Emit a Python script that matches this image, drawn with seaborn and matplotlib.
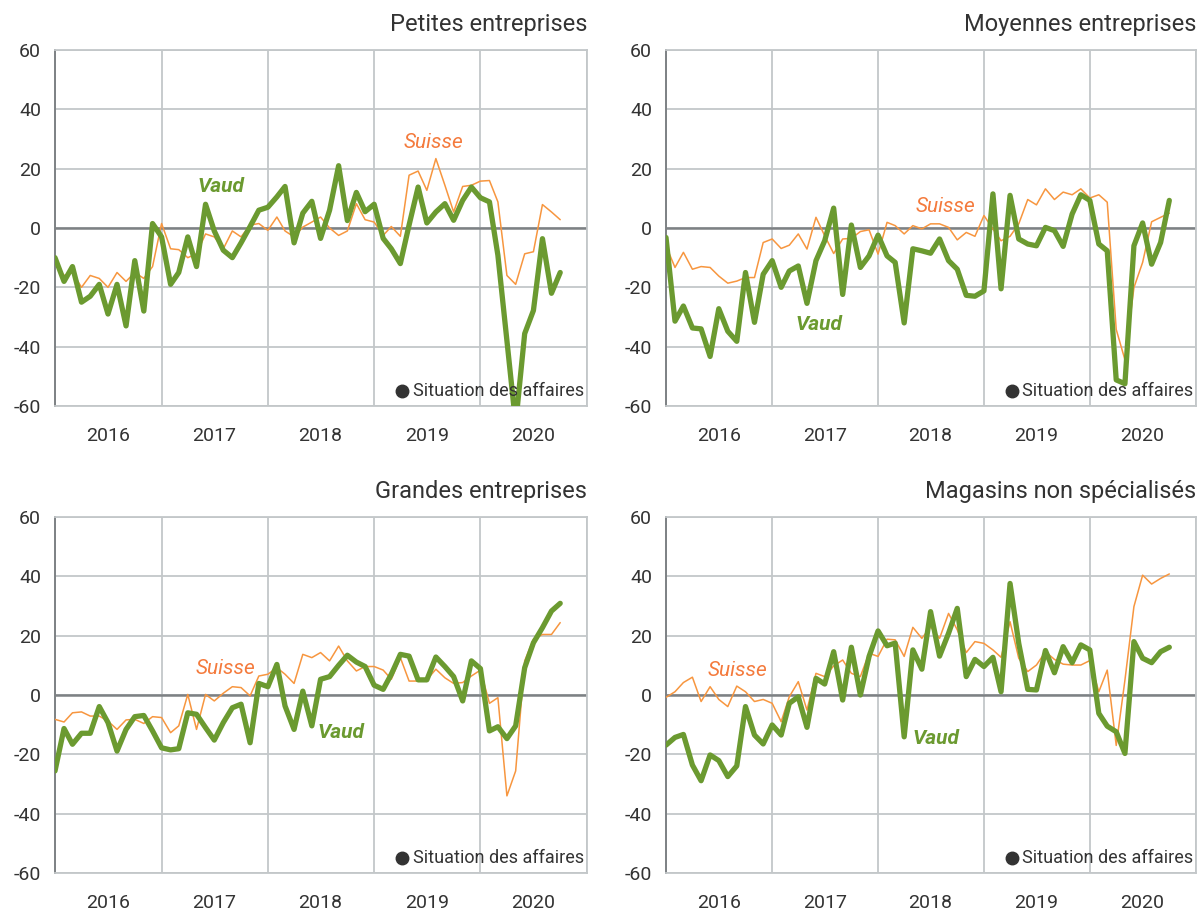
import numpy as np
import pandas as pd
import seaborn as sns
import matplotlib.pyplot as plt
import matplotlib.dates as mdates

sns.set_theme(style="white")
plt.rcParams["font.family"] = ["Roboto", "DejaVu Sans"]
plt.rcParams["axes.unicode_minus"] = False

# Monthly values, January 2016 to October 2020
months = pd.date_range("2016-01-01", periods=58, freq="MS")

petites_vaud = [-10, -18, -13, -25, -23, -19, -29, -19, -33, -11, -28, 1.5,
                -3, -19, -15, -3, -13, 8, -1, -7.5, -10, -5, 0.5, 6,
                7, 10.5, 14, -5, 5, 9, -3.5, 6, 21, 2.5, 12, 5.5,
                8, -3.5, -7, -12, 1, 13.8, 1.7, 5.4, 8.2, 2.6, 9.3, 13.8,
                10.2, 8.8, -9.2, -38, -66, -35.6, -27.8, -3.6, -22, -15]
petites_suisse = [-12, -16, -15, -20, -16, -17, -20, -15, -18, -15, -17, -13,
                  1.5, -7, -7.3, -10, -8.7, -2, -3, -7, -1, -3, 1, 1.5,
                  -0.8, 3.7, -1, -3, 0.3, 2, 3.7, 0, -2.5, -1, 8.2, 2.8,
                  2, -2.5, 0.5, -2.8, 17.8, 19.2, 12.7, 23.4, 14.4, 5.4, 14, 14.4,
                  15.8, 16, 8.8, -16, -19, -8.7, -8, 7.9, 5.4, 2.8]

moyennes_vaud = [-3.2, -31.4, -26.3, -33.7, -34, -43.3, -27.2, -34.8, -38.2, -15, -31.8, -15.6,
                 -11, -20, -14.5, -12.8, -25.4, -11, -4.3, 6.7, -22.4, 1, -13.3, -9.4,
                 -2.4, -9.4, -11.6, -32, -7, -7.7, -8.5, -3.7, -11, -13.9, -22.7, -23,
                 -21.2, 11.5, -20.5, 11, -3.7, -5.4, -6, 0.2, -0.9, -6.2, 4.7, 11.2,
                 9.3, -5.4, -7.7, -51.2, -52.5, -6, 1.7, -12.2, -4.9, 9.3]
moyennes_suisse = [-6, -13.3, -8.2, -13.9, -13, -13.3, -16.2, -18.6, -17.9, -16.7, -16.7, -4.9,
                   -3.7, -6.9, -5.8, -2, -7.1, 3.6, -2.6, -8.6, -3.7, -3.5, -1.2, -0.6,
                   -8.8, 1.9, 0.8, -2, 0.8, -0.3, 1.4, 1.4, 0.2, -4, -1.5, -2.8,
                   4.2, -0.3, -4.3, -2.8, 1.4, 9.6, 7.8, 13.2, 9.6, 12.1, 11.2, 13.2,
                   10.1, 11.2, 8.7, -34.2, -44.4, -20.1, -11.6, 2.1, 3.6, 5]

grandes_vaud = [-25.6, -11.3, -16.6, -12.9, -12.9, -3.9, -9.3, -18.9, -11.6, -7.3, -6.9, -12.1,
                -17.8, -18.5, -18.1, -6, -6.5, -11, -15.2, -9.3, -4.3, -3.1, -16.1, 3.9,
                2.8, 10.3, -3.7, -11.6, 1.3, -10.4, 5.3, 6.2, 10, 13.4, 11.1, 9.6,
                3.3, 1.9, 7, 13.7, 13.1, 5.1, 5.1, 12.8, 9.6, 6.2, -2, 11.5,
                8.9, -12.1, -10.7, -14.7, -10.4, 9.2, 17.6, 22.7, 28.3, 30.9]
grandes_suisse = [-8.2, -9.1, -6, -5.7, -7.1, -7.1, -8.8, -11.6, -8.4, -8.2, -9.6, -7.3,
                  -7.6, -12.7, -10.4, 0.2, -11.6, 0.2, -2, 0.6, 2.8, 2.5, -0.3, 6.4,
                  7, 9.2, 7, 3.9, 13.7, 12.6, 14.3, 11.5, 16.5, 11.5, 8.1, 9.6,
                  9.6, 8.4, 5.3, 12.6, 4.7, 4.7, 5.1, 8.7, 5.8, 3.9, 4.2, 6.4,
                  8.4, -2.8, -0.9, -34, -25.6, 11.5, 18.8, 20.4, 20.4, 24.4]

magasins_vaud = [-16.9, -14.3, -13.3, -23.6, -28.9, -20.2, -22.1, -27.5, -23.9, -3.9, -13.5, -16.5,
                 -10.1, -13.5, -2.8, -0.6, -10.9, 5.6, 3.7, 14.6, -1.7, 16.1, 0, 13,
                 21.6, 16.6, 17.5, -14.1, 15.2, 8.7, 28.1, 13.1, 20.8, 29.2, 6.2, 12,
                 9.6, 12.7, 1.1, 37.6, 17.4, 1.9, 1.7, 15, 7.5, 16.3, 10.9, 16.9,
                 15.2, -6.2, -10.5, -12.4, -19.7, 18, 12.4, 10.9, 14.6, 16.1]
magasins_suisse = [-0.8, 1.1, 4.2, 6, -2.2, 2.8, -1.5, -3.9, 3, 1.1, -2.2, -1.5,
                   -2.8, -9, -0.6, 4.5, -5.1, 7.3, 6.2, 9.8, 11.8, 7.3, 6.2, 14.1,
                   13, 18.8, 18.6, 13, 22.8, 19.1, 23, 19.1, 27.5, 22, 14.3, 18,
                   17.4, 15.2, 12.7, 24.7, 12.4, 7.9, 10.1, 14.6, 12, 10.4, 10.1, 10.1,
                   11.6, 1.1, 8.4, -17, 5, 29.8, 40.4, 37.4, 39.3, 40.8]

titles = ["Petites entreprises", "Moyennes entreprises",
          "Grandes entreprises", "Magasins non spécialisés"]
vaud_series = [petites_vaud, moyennes_vaud, grandes_vaud, magasins_vaud]
suisse_series = [petites_suisse, moyennes_suisse, grandes_suisse, magasins_suisse]

# label positions (date, value) for "Vaud" and "Suisse"
vaud_pos = [("2017-07-25", 14), ("2017-06-10", -32.5), ("2018-09-10", -12.6), ("2018-07-20", -14.5)]
suisse_pos = [("2019-07-25", 28.7), ("2018-08-20", 7.1), ("2017-08-10", 9), ("2016-09-05", 8.4)]

green = "#6b9a30"
orange = "#f7963f"
grid_c = "#c3c7c9"
text_c = "#333333"

fig = plt.figure(figsize=(12.01, 9.13), dpi=100)
W, H = 1201, 913
boxes = [(55, 50, 587, 406), (666, 50, 1196, 406),
         (55, 517, 587, 873), (666, 517, 1196, 873)]

for k in range(4):
    x0, y0, x1, y1 = boxes[k]
    ax = fig.add_axes([x0 / W, 1 - y1 / H, (x1 - x0) / W, (y1 - y0) / H])

    df = pd.DataFrame({"date": list(months) * 2,
                       "value": suisse_series[k] + vaud_series[k],
                       "serie": ["Suisse"] * 58 + ["Vaud"] * 58})
    sns.lineplot(data=df[df.serie == "Suisse"], x="date", y="value", ax=ax,
                 color=orange, linewidth=1.1, zorder=3)
    sns.lineplot(data=df[df.serie == "Vaud"], x="date", y="value", ax=ax,
                 color=green, linewidth=3.8, zorder=4)

    ax.set_xlim(pd.Timestamp("2016-01-01"), pd.Timestamp("2021-01-01"))
    ax.set_ylim(-60, 60)
    ax.set_yticks(np.arange(-60, 61, 20))
    ax.xaxis.set_major_locator(mdates.YearLocator())
    ax.xaxis.set_major_formatter(plt.NullFormatter())
    ax.xaxis.set_minor_locator(mdates.MonthLocator(bymonth=7))
    ax.xaxis.set_minor_formatter(mdates.DateFormatter("%Y"))
    ax.tick_params(axis="x", which="both", length=0, pad=15, labelsize=14, colors=text_c)
    ax.tick_params(axis="y", length=0, pad=10, labelsize=14, colors=text_c)
    ax.set_xlabel("")
    ax.set_ylabel("")

    ax.grid(True, which="major", color=grid_c, linewidth=1.3)
    ax.set_axisbelow(True)
    ax.axhline(0, color="#7d8184", linewidth=1.8, zorder=2)
    for side in ["top", "right", "bottom"]:
        ax.spines[side].set_color(grid_c)
        ax.spines[side].set_linewidth(1.3)
    ax.spines["left"].set_color("#7d8184")
    ax.spines["left"].set_linewidth(1.4)

    ax.text(1.0, 1.04, titles[k], transform=ax.transAxes, ha="right", va="bottom",
            fontsize=17, color=text_c)
    ax.text(0.995, 0.042, "Situation des affaires", transform=ax.transAxes,
            ha="right", va="center", fontsize=13, color=text_c, zorder=5)
    ax.plot([0.652], [0.042], "o", transform=ax.transAxes, ms=9,
            color="#333333", clip_on=False, zorder=5)

    ax.text(pd.Timestamp(vaud_pos[k][0]), vaud_pos[k][1], "Vaud", ha="center", va="center",
            fontsize=15, color=green, style="italic", fontweight="bold", zorder=5)
    ax.text(pd.Timestamp(suisse_pos[k][0]), suisse_pos[k][1], "Suisse", ha="center", va="center",
            fontsize=15, color="#f47a3c", style="italic", zorder=5)

fig.savefig("out.png", dpi=100)
